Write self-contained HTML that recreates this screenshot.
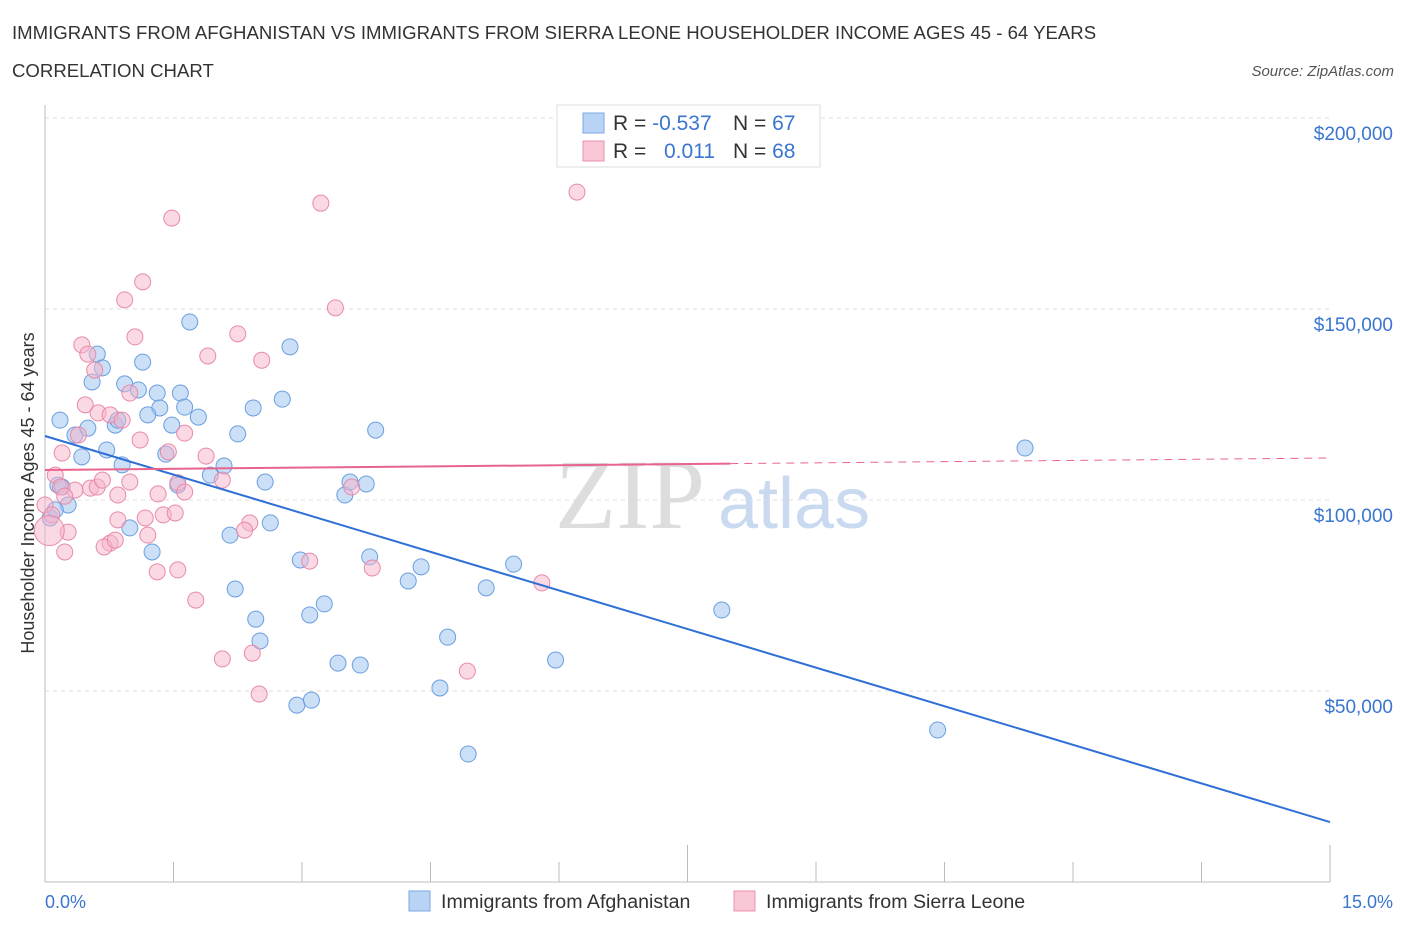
<!DOCTYPE html>
<html><head><meta charset="utf-8"><style>
body{margin:0;background:#fff;font-family:"Liberation Sans",sans-serif;}
svg{display:block}
</style></head><body>
<svg id="chart" width="1406" height="930" xmlns="http://www.w3.org/2000/svg">
<text x="12" y="39" font-size="18.6" fill="#333">IMMIGRANTS FROM AFGHANISTAN VS IMMIGRANTS FROM SIERRA LEONE HOUSEHOLDER INCOME AGES 45 - 64 YEARS</text>
<text x="12" y="77" font-size="18.6" fill="#333">CORRELATION CHART</text>
<text x="1394" y="76" font-size="15" fill="#555" font-style="italic" text-anchor="end">Source: ZipAtlas.com</text>
<text x="555" y="528" font-size="100" fill="#ddd" font-family="Liberation Serif,serif">ZIP</text>
<text x="718" y="528" font-size="72" fill="#c9daf0">atlas</text>
<g id="grid"></g>
<g id="axes"></g>
<g id="pts"></g>
<g id="trend"></g>
<text transform="translate(34,493) rotate(-90)" font-size="18" fill="#333" text-anchor="middle">Householder Income Ages 45 - 64 years</text>
<text x="45" y="908" font-size="18" fill="#3a75d0">0.0%</text>
<text x="1393" y="908" font-size="18" fill="#3a75d0" text-anchor="end">15.0%</text>
<g>
<rect x="557" y="105" width="263" height="62" fill="#fff" stroke="#ddd"/>
<rect x="583" y="113" width="21" height="20" fill="#b9d3f5" stroke="#7aa8e6"/>
<rect x="583" y="141" width="21" height="20" fill="#f9c6d5" stroke="#eb93ae"/>
<text x="613" y="130" font-size="21" fill="#333">R = <tspan fill="#3a75d0">-0.537</tspan><tspan x="733">N = </tspan><tspan fill="#3a75d0">67</tspan></text>
<text x="613" y="158" font-size="21" fill="#333">R = <tspan x="664" fill="#3a75d0">0.011</tspan><tspan x="733">N = </tspan><tspan fill="#3a75d0">68</tspan></text>
</g>
<g>
<rect x="409" y="891" width="21" height="20" fill="#b9d3f5" stroke="#7aa8e6"/>
<text x="441" y="908" font-size="19.6" fill="#333">Immigrants from Afghanistan</text>
<rect x="734" y="891" width="21" height="20" fill="#f9c6d5" stroke="#eb93ae"/>
<text x="766" y="908" font-size="19.6" fill="#333">Immigrants from Sierra Leone</text>
</g>
</svg>
<script>
const yTicks=[50000,100000,150000,200000];
const yTickLabels=["$50,000","$100,000","$150,000","$200,000"];
const afgX=[0.175,0.35,0.5,0.61,0.67,0.55,0.93,1.09,1.14,1.31,1.58,1.69,1.34,1.2,1.48,1.63,1.79,0.82,0.85,0.72,0.43,0.9,1.41,2.09,2.25,2.43,2.77,2.86,3.86,11.44,0.15,0.2,0.27,0.06,0.12,1.55,1.93,2.57,3.5,3.56,3.75,0.99,1.25,2.16,2.63,2.98,3.79,4.24,4.39,5.47,5.15,2.22,2.46,3.09,3.26,2.51,4.7,5.96,7.9,3.42,3.68,4.61,2.94,3.11,4.94,10.42];
const afgY=[120.9,117,118.8,138.2,134.6,130.9,130.4,128.8,136.1,128,128,146.6,124.1,122.3,119.6,124.3,121.7,119.6,120.9,113.1,111.3,109.2,112,108.9,117.3,124.1,126.4,140.1,118.3,113.6,103.9,103.4,98.7,95.3,97.4,103.9,106.5,104.7,101.3,104.7,104.2,92.7,86.4,90.8,94,84.3,85.1,78.8,82.5,83.2,77,76.7,68.8,69.9,72.8,63.1,64.1,58.1,71.2,57.3,56.8,50.8,46.3,47.6,33.5,39.8];
const sleX=[6.21,1.48,3.22,1.14,3.39,0.93,2.25,1.05,0.43,0.5,1.9,2.53,0.58,0.99,0.47,0.62,0.76,0.9,1.63,0.39,1.11,1.44,1.88,0.2,2.07,0.12,0.18,0.35,0.53,0.61,0.67,0.99,1.55,1.63,1.32,0.85,0.23,0.0,0.08,1.17,1.38,1.52,0.85,1.2,2.39,2.33,0.27,0.76,0.69,0.82,0.23,3.82,3.09,1.31,1.55,1.76,5.8,2.07,2.42,4.93,2.5,3.58];
const sleY=[180.6,173.8,177.7,157.1,150.3,152.4,143.5,142.7,140.6,138.2,137.7,136.6,134,128,124.9,122.8,122.3,120.9,117.5,117,115.7,112.6,111.5,112.3,105.2,106.5,103.4,102.6,103.1,103.4,105.2,104.7,104.5,102.1,101.6,101.3,101,98.7,96.1,95.3,96.1,96.6,94.8,90.8,94,92.1,91.6,88.7,87.7,89.5,86.4,82.2,84,81.2,81.7,73.8,78.3,58.4,59.9,55.2,49.2,103.4];
const afgTrend=[116.75,15.7];
const sleTrend=[107.85,110.99];
const sx=v=>45+v/15*1285;
const sy=v=>882-v/50000*191;
const NS="http://www.w3.org/2000/svg";
function mk(tag,attrs,parent){const e=document.createElementNS(NS,tag);for(const k in attrs)e.setAttribute(k,attrs[k]);document.getElementById(parent).appendChild(e);return e;}
yTicks.forEach((t,i)=>{
  const l=mk('line',{x1:45,x2:1330,y1:sy(t),y2:sy(t),stroke:'#ddd','stroke-dasharray':'4,4'},'grid');
  
  
  const tx=mk('text',{x:1393,y:sy(t)+22,'font-size':19,fill:'#3a75d0','text-anchor':'end'},'grid');
  tx.textContent=yTickLabels[i];
  
  
});
const axX=mk('line',{x1:45,x2:1330,y1:882,y2:882,stroke:'#bbb'},'axes');


const axY=mk('line',{x1:45,x2:45,y1:105,y2:882,stroke:'#bbb'},'axes');


for(let i=0;i<=10;i++){
  const t=mk('line',{x1:sx(i*1.5),x2:sx(i*1.5),y1:(i%5==0?845:862),y2:882,stroke:'#bbb'},'axes');
  
  
}
afgX.forEach((x,i)=>{
  const c=mk('circle',{cx:sx(x),cy:sy(afgY[i]*1000),r:8,fill:'rgba(160,196,240,0.55)',stroke:'#6a9fe0','stroke-width':1},'pts');
  
  
});
sleX.forEach((x,i)=>{
  const c=mk('circle',{cx:sx(x),cy:sy(sleY[i]*1000),r:8,fill:'rgba(245,180,202,0.5)',stroke:'#e88aa8','stroke-width':1},'pts');
  
  
});
const bigPt=mk('circle',{cx:sx(0.05),cy:sy(92000),r:15,fill:'rgba(245,180,202,0.5)',stroke:'#e88aa8'},'pts');


const blueLine=mk('line',{x1:sx(0),y1:sy(afgTrend[0]*1000),x2:sx(15),y2:sy(afgTrend[1]*1000),stroke:'#2f6fd6','stroke-width':2},'trend');


const pAt=x=>sleTrend[0]+(sleTrend[1]-sleTrend[0])*x/15;
const pinkLine=mk('line',{x1:sx(0),y1:sy(pAt(0)*1000),x2:sx(8),y2:sy(pAt(8)*1000),stroke:'#e8648f','stroke-width':2},'trend');


const pinkDash=mk('line',{x1:sx(8),y1:sy(pAt(8)*1000),x2:sx(15),y2:sy(pAt(15)*1000),stroke:'#e8648f','stroke-width':1,'stroke-dasharray':'8,6'},'trend');


</script>
</body></html>
